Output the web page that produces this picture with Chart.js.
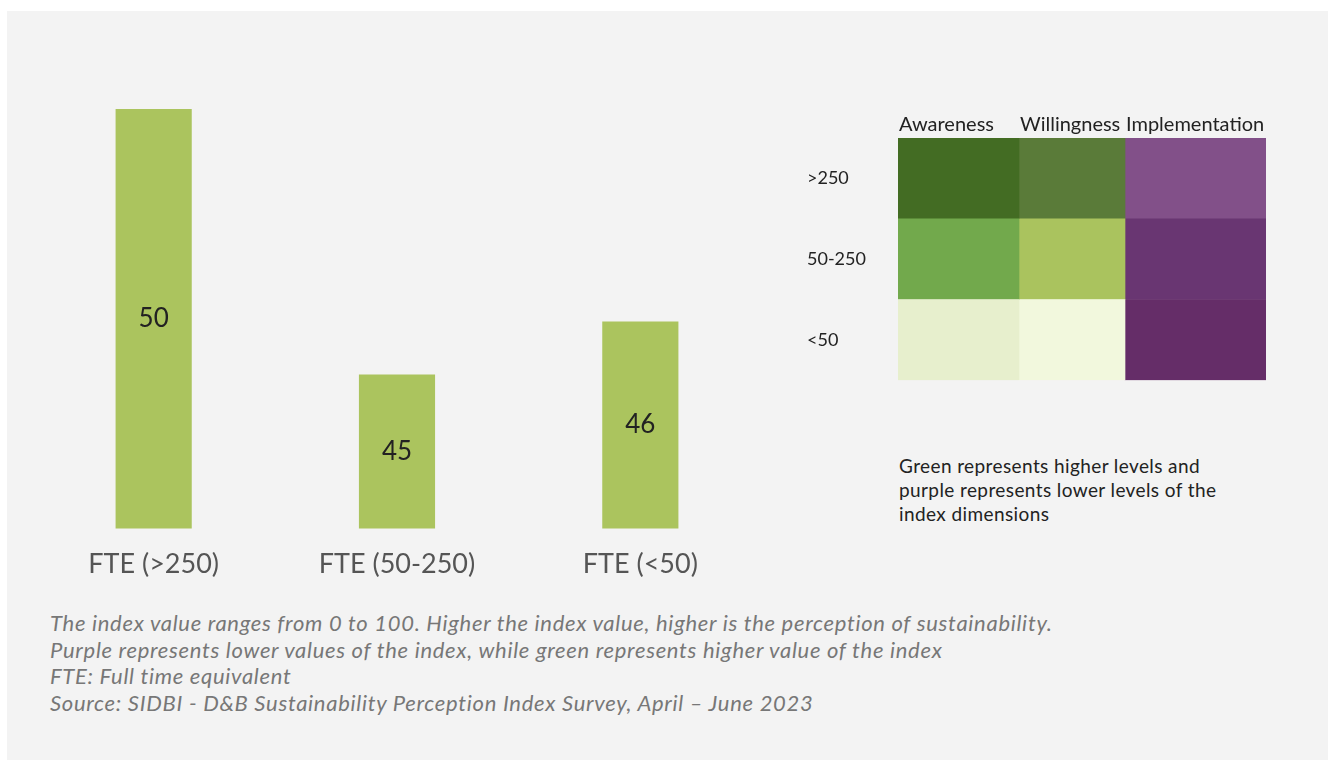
<!DOCTYPE html>
<html>
<head>
<meta charset="utf-8">
<script src="https://cdn.jsdelivr.net/npm/chart.js@4"></script>
<style>
  body{margin:0;background:#fff;font-family:Lato,"Open Sans",sans-serif;}
  #panel{position:absolute;left:7px;top:11px;width:1321px;height:749px;background:#f3f3f3;}
  .box{position:absolute;}
  #note{left:892px;top:443px;width:322px;font-size:19px;line-height:24px;color:#222;letter-spacing:0.4px;}
  #foot{left:43px;top:599px;width:1260px;font-size:22px;line-height:26.7px;color:#777;font-style:italic;letter-spacing:0.7px;}
</style>
</head>
<body>
<div id="panel">
  <div class="box" style="left:25px;top:87px;width:730px;height:493px;"><canvas id="bars"></canvas></div>
  <div class="box" style="left:800px;top:99px;width:463px;height:281px;"><canvas id="heat"></canvas></div>
  <div class="box" id="note">Green represents higher levels and purple represents lower levels of the index dimensions</div>
  <div class="box" id="foot">
    The index value ranges from 0 to 100. Higher the index value, higher is the perception of sustainability.<br>
    Purple represents lower values of the index, while green represents higher value of the index<br>
    FTE: Full time equivalent<br>
    Source: SIDBI - D&amp;B Sustainability Perception Index Survey, April – June 2023
  </div>
</div>
<script>
// bar chart data
const sizeLabels = ["FTE (>250)", "FTE (50-250)", "FTE (<50)"];
const indexValues = [50, 45, 46];

// heatmap data
const dimensions = ["Awareness", "Willingness", "Implementation"];
const sizeRows = [">250", "50-250", "<50"];
// colour of each cell, one row per size class
const cellColors = [
  ["#436c23", "#5a7b39", "#825089"],
  ["#72a94c", "#aac35e", "#693672"],
  ["#e7efcd", "#f2f8dd", "#652d68"]
];

// column widths of the heatmap grid (layout only)
const colWidths = [121, 106, 141];

// value written in the middle of each bar
const insideLabels = {
  id: "insideLabels",
  afterDraw(chart){
    const ctx = chart.ctx;
    const meta = chart.getDatasetMeta(0);
    const bottom = chart.chartArea.bottom;
    ctx.save();
    ctx.font = "26px Lato";
    ctx.fillStyle = "#222";
    ctx.textAlign = "center";
    ctx.textBaseline = "middle";
    meta.data.forEach((bar, i) => {
      ctx.fillText(String(indexValues[i]), bar.x, (bar.y + bottom) / 2);
    });
    ctx.restore();
  }
};

new Chart(document.getElementById("bars"), {
  type: "bar",
  data: {
    labels: sizeLabels,
    datasets: [{
      data: indexValues,
      backgroundColor: "#abc45e",
      categoryPercentage: 1,
      barPercentage: 0.313
    }]
  },
  options: {
    responsive: true,
    maintainAspectRatio: false,
    animation: false,
    layout: {padding: {top: 11, left: 0, right: 0}},
    plugins: {legend: {display: false}, tooltip: {enabled: false}},
    scales: {
      y: {display: false, min: 42.1, max: 50},
      x: {
        grid: {display: false},
        border: {display: false},
        ticks: {color: "#555", font: {family: "Lato", size: 27}, padding: 11}
      }
    }
  },
  plugins: [insideLabels]
});

const colHeaders = {
  id: "colHeaders",
  afterDraw(chart){
    const ctx = chart.ctx;
    const xs = chart.scales.x;
    ctx.save();
    ctx.font = "20px Lato";
    ctx.fillStyle = "#222";
    ctx.textAlign = "left";
    ctx.textBaseline = "alphabetic";
    let acc = 0;
    dimensions.forEach((d, i) => {
      ctx.fillText(d, xs.getPixelForValue(acc) + 1, chart.chartArea.top - 7);
      acc += colWidths[i];
    });
    ctx.restore();
  }
};

new Chart(document.getElementById("heat"), {
  type: "bar",
  data: {
    labels: sizeRows,
    datasets: dimensions.map((d, c) => ({
      label: d,
      data: sizeRows.map(() => colWidths[c]),
      backgroundColor: cellColors.map(row => row[c]),
      borderWidth: 0,
      categoryPercentage: 1,
      barPercentage: 1
    }))
  },
  options: {
    indexAxis: "y",
    responsive: true,
    maintainAspectRatio: false,
    animation: false,
    layout: {padding: {top: 28, right: 4, bottom: 0}},
    plugins: {legend: {display: false}, tooltip: {enabled: false}},
    scales: {
      x: {display: false, stacked: true, min: 0, max: 368},
      y: {
        stacked: true,
        grid: {display: false},
        border: {display: false},
        afterFit(axis){ axis.width = 91; },
        ticks: {color: "#222", font: {family: "Lato", size: 18}, crossAlign: "far", padding: 0}
      }
    }
  },
  plugins: [colHeaders]
});
</script>
</body>
</html>
